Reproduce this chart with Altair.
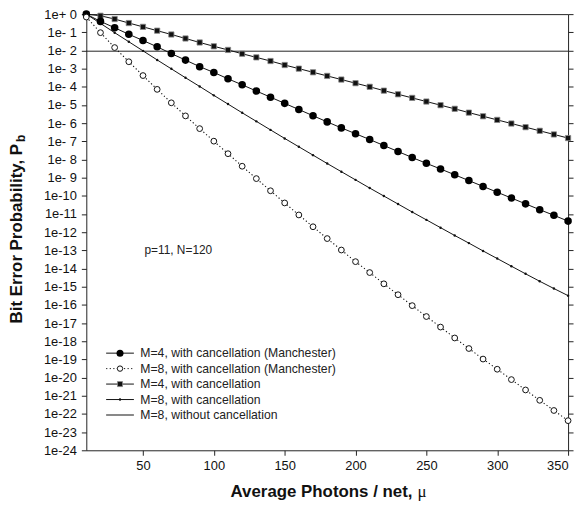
import json
import altair as alt
import pandas as pd

# ---------------- data ----------------
mu = [10, 20, 30, 40, 50, 60, 70, 80, 90, 100, 110, 120, 130, 140, 150, 160, 170, 180,
      190, 200, 210, 220, 230, 240, 250, 260, 270, 280, 290, 300, 310, 320, 330, 340, 350]

# values given as decades below 1 (Pb = 10^-value)
m4_manch = [0.00, 0.40, 0.75, 1.11, 1.45, 1.80, 2.17, 2.53, 2.89, 3.21, 3.56, 3.89, 4.23, 4.57,
            4.91, 5.25, 5.59, 5.93, 6.26, 6.58, 6.90, 7.23, 7.56, 7.89, 8.21, 8.52, 8.84, 9.16,
            9.48, 9.80, 10.12, 10.44, 10.76, 11.07, 11.39]
m8_manch = [0.16, 1.02, 1.84, 2.62, 3.38, 4.14, 4.88, 5.60, 6.30, 6.99, 7.68, 8.37, 9.05, 9.72,
            10.39, 11.05, 11.70, 12.35, 12.98, 13.62, 14.22, 14.84, 15.44, 16.04, 16.64, 17.22,
            17.82, 18.40, 18.98, 19.54, 20.11, 20.68, 21.25, 21.81, 22.37]
m4_canc = [0.00, 0.09, 0.27, 0.49, 0.70, 0.91, 1.12, 1.34, 1.56, 1.77, 1.97, 2.18, 2.38, 2.58,
           2.80, 3.00, 3.20, 3.40, 3.60, 3.80, 4.00, 4.21, 4.41, 4.61, 4.81, 5.01, 5.21, 5.42,
           5.62, 5.82, 6.02, 6.22, 6.42, 6.62, 6.82]
m8_canc = [0.00, 0.51, 1.02, 1.52, 2.02, 2.52, 3.01, 3.50, 3.98, 4.47, 4.95, 5.43, 5.90, 6.37,
           6.84, 7.30, 7.76, 8.22, 8.67, 9.12, 9.57, 10.01, 10.45, 10.89, 11.32, 11.75, 12.18,
           12.60, 13.03, 13.45, 13.87, 14.29, 14.70, 15.10, 15.49]
nocanc_mu = [10, 350]
nocanc = [2.04, 2.04]

series_names = [
    "M=4, with cancellation (Manchester)",
    "M=8, with cancellation (Manchester)",
    "M=4, with cancellation",
    "M=8, with cancellation",
    "M=8, without cancellation",
]

x_ticks = [50, 100, 150, 200, 250, 300, 350]
y_ticks = [1e0, 1e-1, 1e-2, 1e-3, 1e-4, 1e-5, 1e-6, 1e-7, 1e-8, 1e-9, 1e-10, 1e-11, 1e-12,
           1e-13, 1e-14, 1e-15, 1e-16, 1e-17, 1e-18, 1e-19, 1e-20, 1e-21, 1e-22, 1e-23, 1e-24]
y_labels = ["1e+ 0", "1e- 1", "1e- 2", "1e- 3", "1e- 4", "1e- 5", "1e- 6", "1e- 7", "1e- 8",
            "1e- 9", "1e-10", "1e-11", "1e-12", "1e-13", "1e-14", "1e-15", "1e-16", "1e-17",
            "1e-18", "1e-19", "1e-20", "1e-21", "1e-22", "1e-23", "1e-24"]

annot_text = ["p=11, N=120"]
annot_x = [51]
annot_y = [1.05e-13]

FONT = "Liberation Sans"


def frame(xs, decades):
    return pd.DataFrame({"mu": xs, "pb": [10 ** (-d) for d in decades]})


xscale = alt.Scale(domain=[10, 350], nice=False, zero=False)
yscale = alt.Scale(type="log", domain=[1e-24, 1], nice=False)

x_axis = alt.Axis(values=x_ticks, title=None, tickSize=5, labelPadding=4, labelFontSize=13)
y_axis = alt.Axis(values=y_ticks, title=None, tickSize=5, labelPadding=5, labelFontSize=13,
                  labelExpr=json.dumps(y_labels) + "[round(-log(datum.value)/LN10)]")
y_axis_right = alt.Axis(values=y_ticks, title=None, orient="right", labels=False, tickSize=5)


def enc(axis_y=None):
    return dict(
        x=alt.X("mu:Q", scale=xscale, axis=x_axis),
        y=alt.Y("pb:Q", scale=yscale, axis=axis_y),
    )


d_m4m = frame(mu, m4_manch)
d_m8m = frame(mu, m8_manch)
d_m4c = frame(mu, m4_canc)
d_m8c = frame(mu, m8_canc)
d_noc = frame(nocanc_mu, nocanc)

layers = []
# lines
layers.append(alt.Chart(d_noc).mark_line(color="#222", strokeWidth=1).encode(**enc(axis_y=y_axis)))
layers.append(alt.Chart(d_noc).mark_line(color="#222", strokeWidth=1, opacity=0).encode(
    **enc(axis_y=y_axis_right)))
layers.append(alt.Chart(d_m4c).mark_line(color="#111", strokeWidth=1).encode(**enc()))
layers.append(alt.Chart(d_m8c).mark_line(color="#111", strokeWidth=1).encode(**enc()))
layers.append(alt.Chart(d_m4m).mark_line(color="#111", strokeWidth=1).encode(**enc()))
layers.append(alt.Chart(d_m8m).mark_line(color="#111", strokeWidth=1.1, strokeDash=[1.2, 2.4]).encode(**enc()))
# markers
layers.append(alt.Chart(d_m4c).mark_point(shape="square", filled=True, fill="#111", stroke="#888",
                                          strokeWidth=0.8, size=28, opacity=1).encode(**enc()))
layers.append(alt.Chart(d_m8c).mark_point(shape="circle", filled=True, color="#111", size=6,
                                          opacity=1).encode(**enc()))
layers.append(alt.Chart(d_m4m).mark_point(shape="circle", filled=True, color="#000", size=58,
                                          opacity=1).encode(**enc()))
layers.append(alt.Chart(d_m8m).mark_point(shape="circle", filled=True, fill="white", stroke="#111",
                                          strokeWidth=1, size=34, opacity=1).encode(**enc()))

# annotation
d_ann = pd.DataFrame({"mu": annot_x, "pb": annot_y, "t": annot_text})
layers.append(alt.Chart(d_ann).mark_text(align="left", baseline="middle", font=FONT, fontSize=12,
                                         color="#222").encode(text="t:N", **enc()))

# legend (drawn by hand, pixel positions inside the plot)
one = pd.DataFrame({"k": [0]})
leg_rows = [342, 357.6, 373.2, 388.8, 404.4]
leg_dash = [None, [1.2, 2.4], None, None, None]
for i, name in enumerate(series_names):
    yv = leg_rows[i]
    rule_kw = dict(color="#111", strokeWidth=1)
    if leg_dash[i]:
        rule_kw["strokeDash"] = leg_dash[i]
    layers.append(alt.Chart(one).mark_rule(**rule_kw).encode(
        x=alt.value(20), x2=alt.value(48), y=alt.value(yv)))
    layers.append(alt.Chart(one).mark_text(text=name, align="left", baseline="middle", font=FONT,
                                           fontSize=12.3, color="#222").encode(
        x=alt.value(54.5), y=alt.value(yv)))
leg_marks = [
    dict(shape="circle", filled=True, color="#000", size=50),
    dict(shape="circle", filled=True, fill="white", stroke="#111", strokeWidth=1, size=30),
    dict(shape="square", filled=True, fill="#111", stroke="#888", strokeWidth=0.8, size=26),
    dict(shape="circle", filled=True, color="#111", size=6),
]
for i, mk in enumerate(leg_marks):
    layers.append(alt.Chart(one).mark_point(opacity=1, **mk).encode(
        x=alt.value(34), y=alt.value(leg_rows[i])))

# axis titles
layers.append(alt.Chart(one).mark_text(text="Bit Error Probability, P", angle=270, align="right",
                                       baseline="middle", font=FONT, fontSize=17, fontWeight="bold",
                                       color="#111").encode(x=alt.value(-70), y=alt.value(131)))
layers.append(alt.Chart(one).mark_text(text="b", angle=270, align="left", baseline="middle",
                                       font=FONT, fontSize=12, fontWeight="bold",
                                       color="#111").encode(x=alt.value(-66), y=alt.value(129)))
layers.append(alt.Chart(one).mark_text(text="Average Photons / net,", align="right",
                                       baseline="alphabetic", font=FONT, fontSize=17,
                                       fontWeight="bold", color="#111").encode(
    x=alt.value(329), y=alt.value(487)))
layers.append(alt.Chart(one).mark_text(text="μ", align="left", baseline="alphabetic",
                                       font="Liberation Serif", fontSize=17,
                                       color="#111").encode(x=alt.value(334), y=alt.value(487)))

chart = alt.layer(*layers).resolve_axis(y="independent").properties(
    width=486,
    height=440,
    autosize=alt.AutoSizeParams(type="none"),
    padding={"left": 79, "top": 4, "right": 8, "bottom": 52},
).configure_view(stroke="#222", strokeWidth=1).configure_axis(
    labelFont=FONT, labelColor="#111", tickColor="#222", domain=False, grid=False
)

chart.save("out.html", embed_options={"renderer": "svg", "actions": False})
